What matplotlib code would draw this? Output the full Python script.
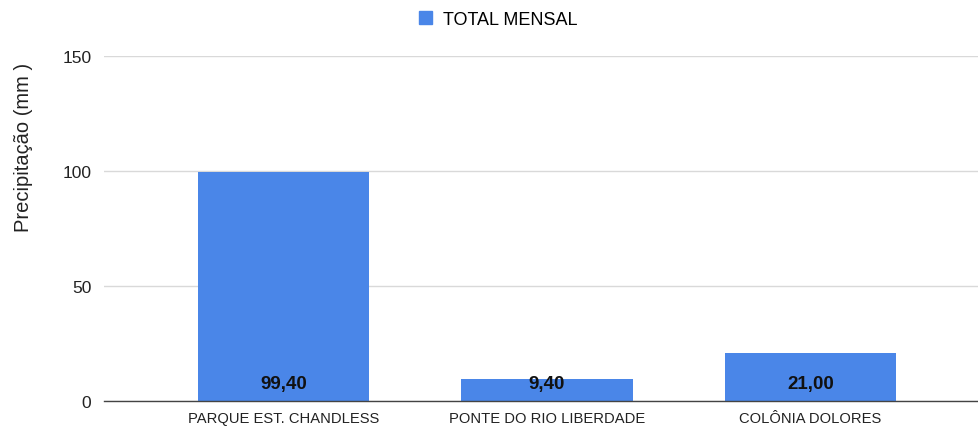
import matplotlib
matplotlib.use("Agg")
import matplotlib.pyplot as plt
from matplotlib.patches import Patch

categories = ["PARQUE EST. CHANDLESS", "PONTE DO RIO LIBERDADE", "COLÔNIA DOLORES"]
values = [99.40, 9.40, 21.00]
value_labels = ["99,40", "9,40", "21,00"]
series_name = "TOTAL MENSAL"
yticks = [0, 50, 100, 150]

plt.rcParams['font.family'] = ['Liberation Sans', 'DejaVu Sans']

fig = plt.figure(figsize=(9.79, 4.27), dpi=100)
ax = fig.add_axes([104/979, 25/427, 1 - 104/979, 345/427])

blue = "#4a86e8"
x = list(range(len(categories)))
bars = ax.bar(x, values, width=0.65, color=blue, zorder=3)

ax.set_ylim(0, 150)
ax.set_xlim(-0.681, 2.639)
ax.set_yticks(yticks)
ax.set_yticklabels([str(t) for t in yticks], fontsize=12.5, color="#222222")
ax.set_xticks(x)
ax.set_xticklabels(categories, fontsize=10.6, color="#222222")
ax.tick_params(axis='both', length=0)
ax.tick_params(axis='y', pad=9)
ax.tick_params(axis='x', pad=7)

for s in ["top", "right", "left"]:
    ax.spines[s].set_visible(False)
ax.spines["bottom"].set_color("#444444")
ax.spines["bottom"].set_linewidth(1.0)
ax.spines["bottom"].set_zorder(4)

ax.grid(axis='y', color="#d9d9d9", linewidth=1.0, zorder=0)
ax.set_axisbelow(True)

for xi, lab in zip(x, value_labels):
    ax.annotate(lab, xy=(xi, 0), xytext=(0, 12.5), textcoords="offset points",
                ha="center", va="center", fontsize=13.5, fontweight="bold",
                color="#111111", zorder=5)

ax.set_ylabel("Precipitação (mm )", fontsize=14.5, color="#222222")
ax.yaxis.set_label_coords(-0.081, 0.739)

handles = [Patch(facecolor=blue, edgecolor=blue, label=series_name)]
fig.legend(handles=handles, loc="upper center", bbox_to_anchor=(0.509, 1.01),
           frameon=False, fontsize=13, handlelength=0.75, handleheight=0.75,
           handletextpad=0.6)

fig.savefig("out.png", dpi=100)
